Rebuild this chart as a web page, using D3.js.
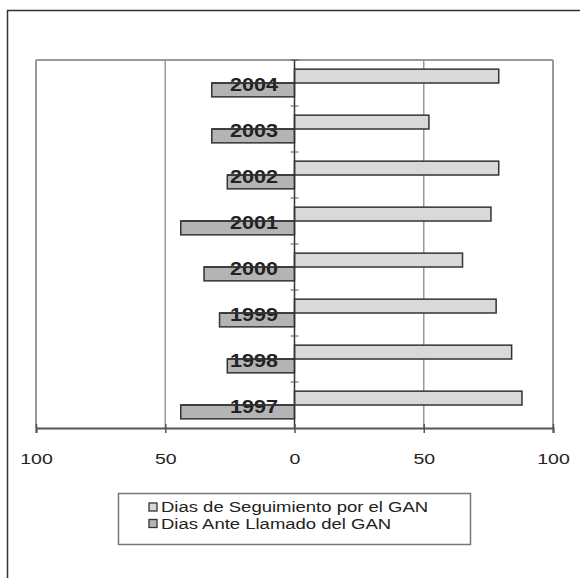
<!DOCTYPE html>
<html><head><meta charset="utf-8">
<script src="https://cdn.jsdelivr.net/npm/d3@7"></script>
<style>body{margin:0;background:#fff}svg{display:block}text{font-family:Arial,"Liberation Sans",sans-serif}</style>
</head><body><svg id="c" width="580" height="578"></svg>
<script>
const years = ["1997","1998","1999","2000","2001","2002","2003","2004"];
const seguimiento = [88, 84, 78, 65, 76, 79, 52, 79];
const anteLlamado = [44, 26, 29, 35, 44, 26, 32, 32];
const tickValues = [-100, -50, 0, 50, 100];
const legendLabels = ["Dias de Seguimiento por el GAN", "Dias Ante Llamado del GAN"];

const svg = d3.select("#c");
function stretch(sel, k){ sel.each(function(){ const w=this.getComputedTextLength(); this.setAttribute("textLength", w*k); this.setAttribute("lengthAdjust","spacingAndGlyphs"); }); }

// outer frame
svg.append("path").attr("d","M7.5,600V10.5H600").attr("fill","none").attr("stroke","#333").attr("stroke-width",1.5);

const L=36, R=553, T=60, B=428;
const x = d3.scaleLinear().domain([-100,100]).range([L,R]);
const y = d3.scaleBand().domain(years.slice().reverse()).range([T,B]);
const sub = d3.scaleBand().domain(["pos","neg"]).range([0,y.bandwidth()]).paddingOuter(0.66);

// plot border & grid
const g = svg.append("g");
g.append("line").attr("x1",L).attr("x2",R).attr("y1",T).attr("y2",T).attr("stroke","#999").attr("stroke-width",2);
[L,R].forEach(v=>g.append("line").attr("x1",v).attr("x2",v).attr("y1",T).attr("y2",B).attr("stroke","#999").attr("stroke-width",2));
[-50,50].forEach(v=>g.append("line").attr("x1",x(v)).attr("x2",x(v)).attr("y1",T).attr("y2",B).attr("stroke","#999").attr("stroke-width",1.5));

// bars
const data = years.map((yr,i)=>({yr, pos:seguimiento[i], neg:anteLlamado[i]}));
g.selectAll(".pos").data(data).join("rect")
 .attr("x",x(0)).attr("y",d=>y(d.yr)+sub("pos")).attr("width",d=>x(d.pos)-x(0)).attr("height",sub.bandwidth())
 .attr("fill","#d9d9d9").attr("stroke","#333").attr("stroke-width",1.5);
g.selectAll(".neg").data(data).join("rect")
 .attr("x",d=>x(-d.neg)).attr("y",d=>y(d.yr)+sub("neg")).attr("width",d=>x(0)-x(-d.neg)).attr("height",sub.bandwidth())
 .attr("fill","#b4b4b4").attr("stroke","#333").attr("stroke-width",1.5);

// zero axis with ticks
g.append("line").attr("x1",x(0)).attr("x2",x(0)).attr("y1",T).attr("y2",B).attr("stroke","#333").attr("stroke-width",1.5);
years.forEach(yr=>g.append("line").attr("x1",x(0)-4).attr("x2",x(0)+4).attr("y1",y(yr)).attr("y2",y(yr)).attr("stroke","#555"));

// category labels
const cl = g.selectAll(".cl").data(years).join("text")
 .attr("x",278).attr("y",d=>y(d)+y.bandwidth()/2+8).attr("text-anchor","end")
 .attr("font-size",18).attr("font-weight","bold").attr("fill","#222").text(d=>d);
stretch(cl,1.2);
// bar top edge shows through the label
g.selectAll(".edge").data(data).join("line")
 .attr("x1",d=>x(-d.neg)).attr("x2",x(0)).attr("y1",d=>y(d.yr)+sub("neg")).attr("y2",d=>y(d.yr)+sub("neg"))
 .attr("stroke","#333").attr("stroke-width",1.3);

// bottom axis
const ax = svg.append("g").attr("transform",`translate(0,${B})`)
 .call(d3.axisBottom(x).tickValues(tickValues).tickSize(5).tickFormat(d=>Math.abs(d)));
ax.select(".domain").attr("stroke","#555").attr("stroke-width",2);
ax.selectAll(".tick line").attr("stroke","#555").attr("stroke-width",1.5).attr("y1",-4);
ax.selectAll(".tick text").attr("font-size",15).attr("fill","#222").attr("y",25).attr("font-family","Arial, 'Liberation Sans', sans-serif");
stretch(ax.selectAll(".tick text"),1.3);

// legend
const lg = svg.append("g");
lg.append("rect").attr("x",118.5).attr("y",493.5).attr("width",352).attr("height",51).attr("fill","#fff").attr("stroke","#777").attr("stroke-width",1.5);
const fills=["#d9d9d9","#b4b4b4"];
legendLabels.forEach((t,i)=>{
  const cy = 507 + i*16.5;
  lg.append("rect").attr("x",149).attr("y",cy-4).attr("width",8).attr("height",8).attr("fill",fills[i]).attr("stroke","#333").attr("stroke-width",1.3);
  lg.append("text").attr("x",161).attr("y",cy+5).attr("font-size",14).attr("fill","#222").text(t).attr("class","lt");
});
stretch(lg.selectAll(".lt"),1.32);
</script></body></html>
